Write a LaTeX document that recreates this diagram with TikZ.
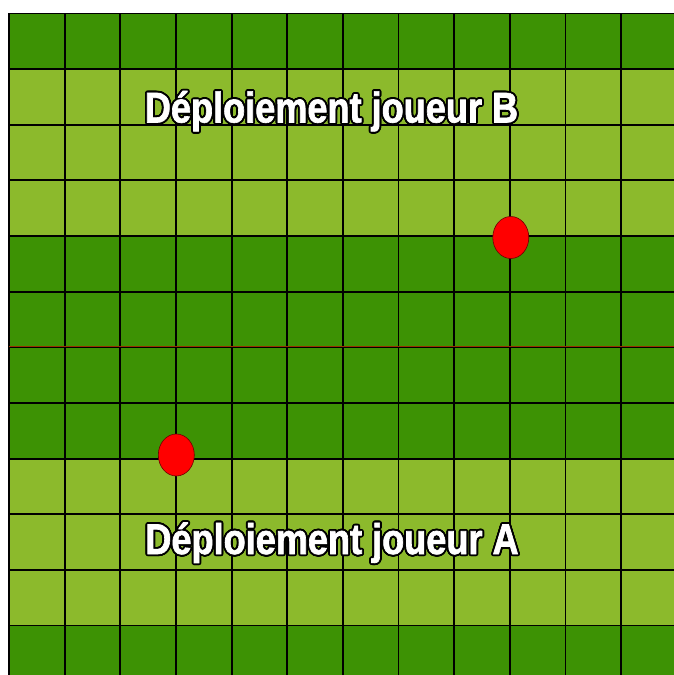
\documentclass[tikz,border=0pt]{standalone}
\usepackage{fontspec}
\newfontfamily\labelfont{Liberation Sans}[FakeStretch=0.84,FakeBold=1.5]
\usetikzlibrary{shapes.geometric}
\definecolor{darkfield}{RGB}{61,146,4}
\definecolor{lightfield}{RGB}{140,186,44}
\definecolor{midline}{RGB}{150,50,0}
\definecolor{token}{RGB}{255,0,0}
\newcommand\outlinedtext[1]{%
  \foreach \a in {0,20,...,340}{%
    \pgfmathsetlengthmacro\odx{1.9pt*cos(\a)}%
    \pgfmathsetlengthmacro\ody{1.9pt*sin(\a)}%
    \rlap{\kern\odx\raisebox{\ody}{\color{black}#1}}%
  }%
  {\color{white}#1}}
\tikzset{
  gridline/.style={black, line width=1.8pt},
  deploytext/.style={inner sep=0pt, anchor=base, font=\labelfont\bfseries\fontsize{43}{43}\selectfont},
  tokenmark/.style={ellipse, draw={rgb,255:red,110;green,0;blue,0}, line width=0.6pt, fill=token, minimum width=36pt, minimum height=42pt, inner sep=0pt}
}
\begin{document}
\begin{tikzpicture}[x=1pt,y=-1pt]
\useasboundingbox (0,0) rectangle (674,675);
\def\cs{55.65}
\def\gx{9}
\def\gy{13.4}
% rows
\foreach \r/\c in {0/darkfield,1/lightfield,2/lightfield,3/lightfield,4/darkfield,5/darkfield,6/darkfield,7/darkfield,8/lightfield,9/lightfield,10/lightfield,11/darkfield}{
  \fill[\c] (\gx,{\gy+\r*\cs}) rectangle ({\gx+12*\cs},{\gy+(\r+1)*\cs});
}
% grid lines
\foreach \i in {0,...,12}{
  \draw[gridline] ({\gx+\i*\cs},\gy) -- ({\gx+\i*\cs},{\gy+12*\cs});
  \draw[gridline] (\gx,{\gy+\i*\cs}) -- ({\gx+12*\cs},{\gy+\i*\cs});
}
% middle line
\coordinate (midL) at (\gx,{\gy+6*\cs-0.6});
\coordinate (midR) at ({\gx+12*\cs},{\gy+6*\cs-0.6});
\draw[midline, line width=1pt] (midL) -- (midR);
% tokens
\node[tokenmark] (tokB) at (510.8,237.5) {};
\node[tokenmark] (tokA) at (176.3,455) {};
% texts
\node[deploytext] (textB) at (331.5,122.5) {\outlinedtext{Déploiement joueur B}};
\node[deploytext] (textA) at (332,554) {\outlinedtext{Déploiement joueur A}};
\end{tikzpicture}
\end{document}
